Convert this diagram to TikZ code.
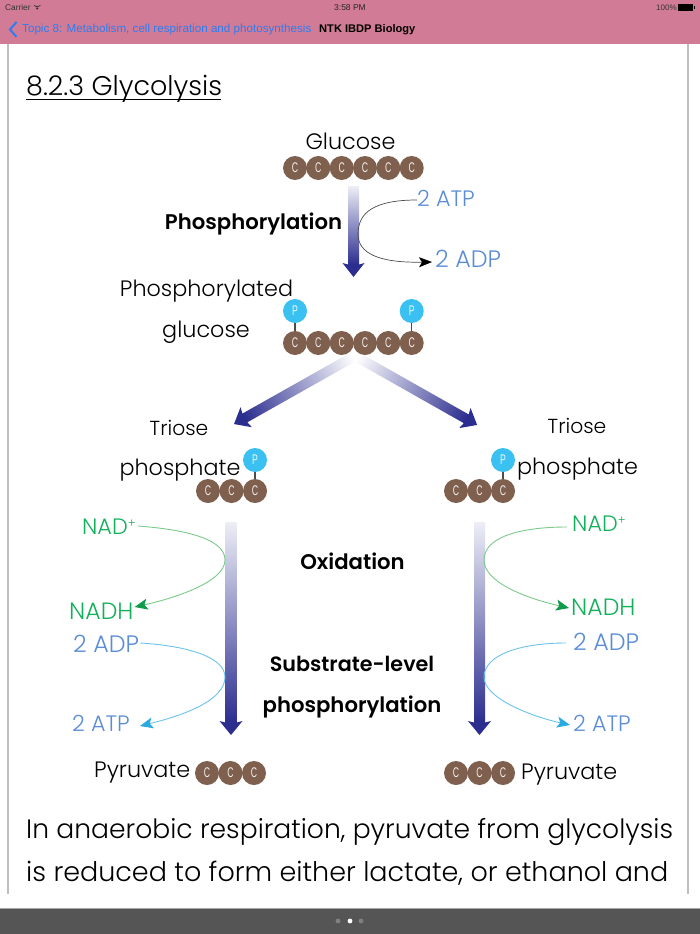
\documentclass[tikz,border=0pt]{standalone}
\usepackage{fontspec}
\setmainfont{Liberation Sans}
\newfontfamily\gothic{Poppins Light}
\newfontfamily\gothicb{Poppins SemiBold}
\usetikzlibrary{arrows.meta,calc}
\definecolor{bar}{HTML}{D27B96}
\definecolor{iosblue}{HTML}{2C7DF0}
\definecolor{brownc}{HTML}{7F5F4D}
\definecolor{cyanp}{HTML}{3BC0F2}
\definecolor{shaftc}{HTML}{2B2D8F}
\definecolor{atpblue}{HTML}{5B8DD6}
\definecolor{nadgreen}{HTML}{12B05A}
\definecolor{nadhead}{HTML}{0E9B4A}
\definecolor{bluehead}{HTML}{29ABE2}
\definecolor{greenl}{HTML}{7CCB8A}
\definecolor{bluel}{HTML}{6CC4EC}
\definecolor{footer}{HTML}{555555}
\definecolor{dimdot}{HTML}{808080}
\tikzset{
  x=1pt,y=-1pt,
  carbon/.style={circle,fill=brownc,minimum size=24pt,inner sep=0pt,text=white!90!brownc,font=\fontsize{14}{14}\selectfont},
  phos/.style={circle,fill=cyanp,minimum size=24pt,inner sep=0pt,text=white!90!cyanp,font=\fontsize{14}{14}\selectfont},
  stem/.style={draw=black!70,line width=1.2pt},
  lab/.style={inner sep=0pt,font=\gothic\fontsize{22.3}{22}\selectfont,text=black},
  triose/.style={inner sep=0pt,font=\gothic\fontsize{20.3}{20}\selectfont,text=black},
  blab/.style={inner sep=0pt,font=\gothicb\fontsize{21.2}{21}\selectfont,text=black},
  atplab/.style={lab,text=atpblue,anchor=west},
  adplab/.style={atplab,font=\gothic\fontsize{23.8}{24}\selectfont},
  nadlab/.style={lab,text=nadgreen,anchor=west},
  nadhlab/.style={nadlab,font=\gothic\fontsize{23.6}{24}\selectfont},
  ui/.style={inner sep=0pt,anchor=west},
  body/.style={inner sep=0pt,anchor=west,font=\gothic\fontsize{27}{27}\selectfont},
  curveblack/.style={draw=black!70,line width=0.7pt,-{Stealth[length=13pt,width=10pt,inset=3pt,black]}},
  curvegreen/.style={draw=greenl,line width=0.9pt,-{Stealth[length=13pt,width=11pt,inset=3pt,nadhead]}},
  curveblue/.style={draw=bluel,line width=0.9pt,-{Stealth[length=13pt,width=11pt,inset=3pt,bluehead]}},
}
\newcommand{\gradarrow}[7]{% name, position, length, angle, shaft half width, head half width, top tint
  \coordinate (#1) at (#2);
  \begin{scope}[transform canvas={rotate around={#4:(#1)}}]
    \shade[top color=shaftc!#7,bottom color=shaftc,shift={(#1)}] (-#5,0) rectangle (#5,#3-12);
    \fill[shaftc,shift={(#1)}] (-#6,#3-14) -- (-#5,#3-12.5) -- (#5,#3-12.5) -- (#6,#3-14) -- (0,#3) -- cycle;
  \end{scope}}
\newcommand{\carbons}[3]{% prefix, y, list of name/x
  \foreach \n/\xx in {#3} \node[carbon] (#1\n) at (\xx,#2) {\scalebox{0.62}[1]{C}};}
\newcommand{\phosp}{\scalebox{0.62}[1]{P}}
\newcommand{\nadplus}{NAD\raisebox{7pt}{\fontsize{12}{12}\selectfont +}}
\begin{document}
\begin{tikzpicture}
\useasboundingbox (0,0) rectangle (700,934);
\fill[white] (0,0) rectangle (700,934);
% chrome
\fill[bar] (0,0) rectangle (700,44);
\fill[footer] (0,908) rectangle (700,934);
\draw[black!35,line width=0.8pt] (0,908) -- (700,908);
\draw[black!25,line width=1.5pt] (8,44) -- (8,894);
\draw[black!25,line width=1.5pt] (688,44) -- (688,894);
\node[ui,font=\fontsize{8.3}{9}\selectfont,text=black!80] (carrier) at (5,7.5) {Carrier};
\node[inner sep=0pt,font=\fontsize{8.5}{9}\selectfont,text=black!85] (clock) at (350,7.5) {3:58 PM};
\node[ui,font=\fontsize{8}{9}\selectfont,text=black!80] (pct) at (656,7.5) {100\%};
\fill[black] (678,4) rectangle (693,11);
\fill[black] (693.5,6) rectangle (695,9);
\draw[black!80,line width=0.8pt] (34,5.5) arc[start angle=135,end angle=45,radius=4.5];
\fill[black!80] (37.2,8.5) circle (1.2pt);
\draw[iosblue,line width=2pt] (16.5,22) -- (10,29.5) -- (16.5,37);
\node[ui,font=\fontsize{11.65}{13}\selectfont,text=iosblue] (topic) at (22,29.5) {Topic 8: Metabolism, cell respiration and photosynthesis};
\node[ui,font=\fontsize{11.1}{13}\selectfont\bfseries,text=black] (app) at (319,29.5) {NTK IBDP Biology};
\foreach \xx/\cc in {338/dimdot,350/white,361/dimdot} \fill[\cc] (\xx,921) circle (2.4pt);
% heading
\node[body] (title) at (26,89) {8.2.3 Glycolysis};
\draw[black,line width=1pt] (26,99.5) -- (221,99.5);
% arrows
\gradarrow{aTop}{353.5,186}{91}{0}{5.5}{11}{8}
\gradarrow{aL}{353,357}{136.6}{-60.6}{5}{11.5}{0}
\gradarrow{aR}{357,357}{138}{60.5}{5}{11.5}{0}
\gradarrow{aDL}{231,522}{213}{0}{5.5}{11.5}{8}
\gradarrow{aDR}{479.5,522}{213}{0}{5.5}{11.5}{8}
% molecules
\carbons{g}{168}{1/295,2/318.3,3/341.7,4/365,5/388.3,6/411.7}
\draw[stem] (295,320) -- (295,335);
\draw[stem] (411.7,320) -- (411.7,335);
\carbons{h}{343}{1/295,2/318.3,3/341.7,4/365,5/388.3,6/411.7}
\node[phos] (p1) at (295,311) {\phosp};
\node[phos] (p2) at (411.7,311) {\phosp};
\draw[stem] (255,468) -- (255,482);
\draw[stem] (503,468) -- (503,482);
\carbons{l}{491}{1/208,2/231.5,3/255}
\carbons{r}{491}{1/456,2/479.5,3/503}
\node[phos] (p3) at (255,460) {\phosp};
\node[phos] (p4) at (503,460) {\phosp};
\carbons{m}{773}{1/207,2/230.5,3/254}
\carbons{n}{773}{1/456,2/479.5,3/503}
% labels
\node[lab] (glucose) at (350.5,141) {Glucose};
\node[blab] (phosph) at (253.5,224) {Phosphorylation};
\node[atplab] (atpA) at (417,198) {2 ATP};
\node[adplab] (adpA) at (435,259) {2 ADP};
\node[lab] (pgl) at (206.5,291) {Phosphorylated};
\node[lab] (pgl2) at (206,332) {glucose};
\node[triose] (tl) at (179,428) {Triose};
\node[lab] (tl2) at (180,470) {phosphate};
\node[triose] (tr) at (577,426) {Triose};
\node[lab] (tr2) at (577.5,469) {phosphate};
\node[nadlab] (nadL) at (82,527) {\nadplus};
\node[nadhlab] (nadhL) at (69,611) {NADH};
\node[adplab] (adpL) at (73,644) {2 ADP};
\node[atplab] (atpL) at (72,723) {2 ATP};
\node[lab,anchor=west] (pyL) at (94,773) {Pyruvate};
\node[nadlab] (nadR) at (572,524) {\nadplus};
\node[nadhlab] (nadhR) at (571,607.5) {NADH};
\node[adplab] (adpR) at (573,641.5) {2 ADP};
\node[atplab] (atpR) at (573,723) {2 ATP};
\node[lab,anchor=west] (pyR) at (521,775) {Pyruvate};
\node[blab] (oxi) at (352.5,561) {Oxidation};
\node[blab,font=\gothicb\fontsize{20.7}{21}\selectfont] (sub) at (352,664) {Substrate-level};
\node[blab] (sub2) at (352,707) {phosphorylation};
\node[body,font=\gothic\fontsize{26.6}{27}\selectfont] (b1) at (26,832) {In anaerobic respiration, pyruvate from glycolysis};
\node[body] (b2) at (26,873) {is reduced to form either lactate, or ethanol and};
% connectors
\draw[curveblack] ($(atpA.west)+(0,2)$) .. controls (375,200) and (358,212) .. (358,234) .. controls (358,253) and (378,263) .. ($(adpA.west)+(-3,3)$);
\draw[curvegreen] ($(nadL.west)+(56,-1)$) .. controls (190,530) and (225,540) .. (225,560) .. controls (225,582) and (175,598) .. ($(nadhL.east)+(1,-4)$);
\draw[curveblue] ($(adpL.east)+(1,-1)$) .. controls (190,646) and (225,658) .. (225,677) .. controls (225,700) and (185,715) .. ($(atpL.east)+(10,3)$);
\draw[curvegreen] ($(nadR.west)+(-5,3)$) .. controls (520,527) and (484,537) .. (484,560) .. controls (484,582) and (525,598) .. ($(nadhR.west)+(-2,0.5)$);
\draw[curveblue] ($(adpR.west)+(-7,1.5)$) .. controls (520,643) and (484,655) .. (484,677) .. controls (484,698) and (530,716) .. ($(atpR.west)+(-3,2)$);
\end{tikzpicture}
\end{document}
